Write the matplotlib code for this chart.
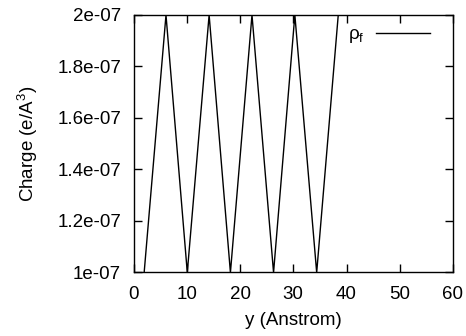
import matplotlib
matplotlib.use("Agg")
import matplotlib.pyplot as plt

plt.rcParams['font.family'] = ['Liberation Sans', 'DejaVu Sans']
plt.rcParams['mathtext.fontset'] = 'custom'
plt.rcParams['mathtext.rm'] = 'Liberation Sans'
plt.rcParams['mathtext.it'] = 'Liberation Sans:italic'

# Free charge density profile along y
y_pos = [2.0, 6.1, 10.1, 14.2, 18.2, 22.25, 26.3, 30.3, 34.4, 38.45]
rho_f = [1e-7, 2e-7, 1e-7, 2e-7, 1e-7, 2e-7, 1e-7, 2e-7, 1e-7, 2e-7]

x_ticks = [0, 10, 20, 30, 40, 50, 60]
y_ticks = [1e-7, 1.2e-7, 1.4e-7, 1.6e-7, 1.8e-7, 2e-7]
y_tick_labels = ['1e-07', '1.2e-07', '1.4e-07', '1.6e-07', '1.8e-07', '2e-07']

FS = 13.5

fig = plt.figure(figsize=(4.66, 3.36), dpi=100)
ax = fig.add_axes([0.2865, 0.189, 0.9721 - 0.2865, 0.9554 - 0.189])

ax.plot(y_pos, rho_f, color='black', lw=1.0, label='ρ$_\\mathrm{f}$')

ax.set_xlim(0, 60)
ax.set_ylim(1e-7, 2e-7)
ax.set_xticks(x_ticks)
ax.set_xticklabels([str(t) for t in x_ticks])
ax.set_yticks(y_ticks)
ax.set_yticklabels(y_tick_labels)

ax.tick_params(direction='in', length=6, width=1, top=True, right=True,
               labelsize=FS, color='black')
ax.tick_params(axis='y', pad=9)
ax.tick_params(axis='x', pad=10)
for s in ax.spines.values():
    s.set_linewidth(1.0)

ax.set_xlabel('y (Anstrom)', fontsize=FS, labelpad=6)
ax.set_ylabel('Charge (e/A$^3$)', fontsize=FS, labelpad=12)

ax.legend(loc='upper right', frameon=False, markerfirst=False, fontsize=FS,
          handlelength=2.88, handletextpad=0.65, borderaxespad=0.2,
          bbox_to_anchor=(0.964, 1.0))

fig.savefig('out.png', dpi=100)
